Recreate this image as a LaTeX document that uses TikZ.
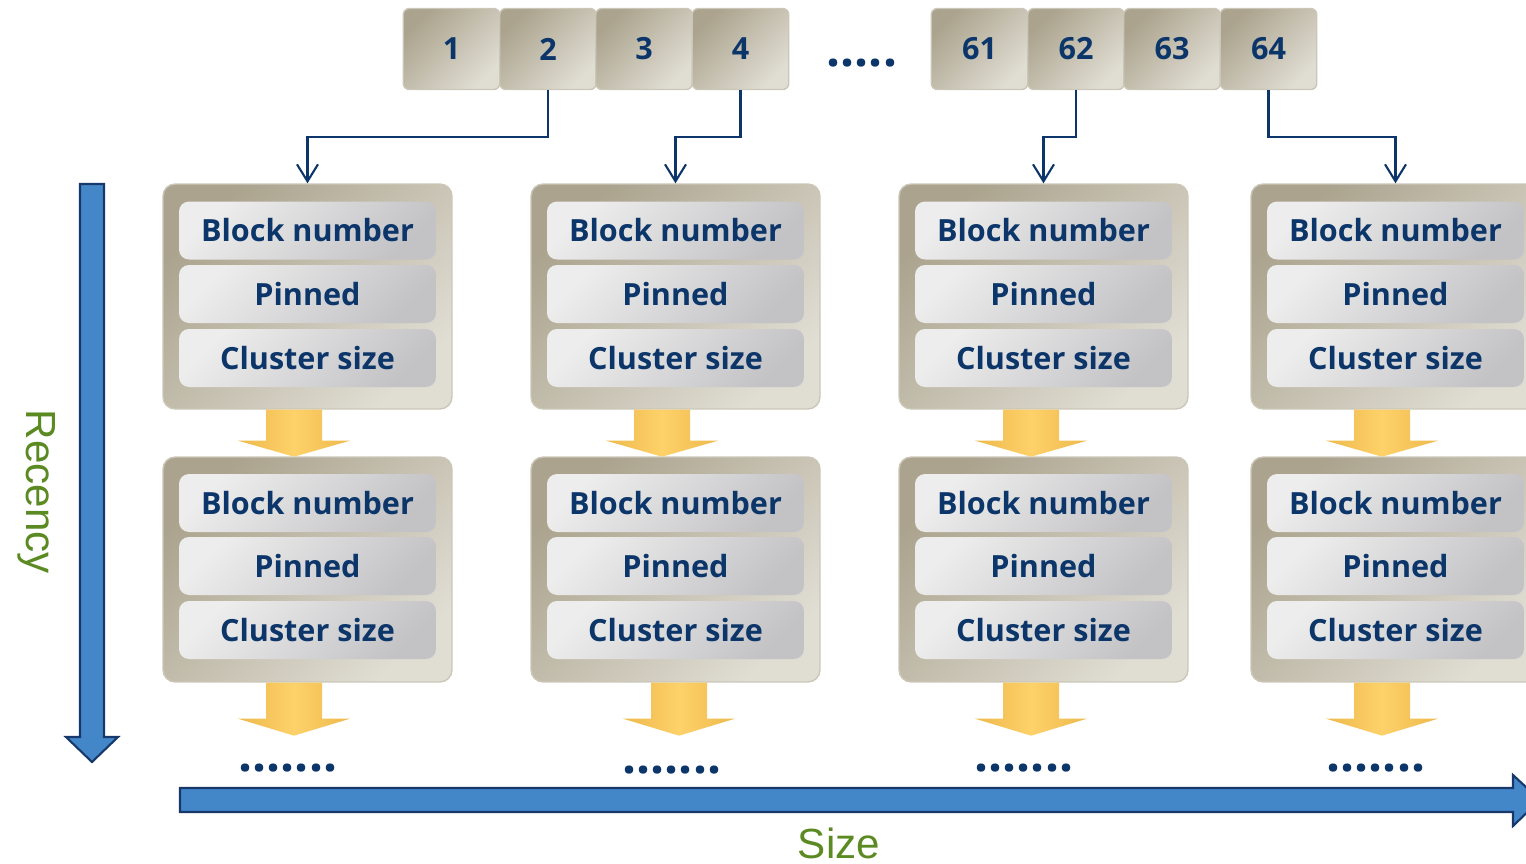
\documentclass[tikz,border=0pt]{standalone}
\usepackage{fontspec}
\setmainfont{Liberation Sans}
\newfontfamily\boxfont{Open Sans}
\usepackage{tikz}
\usetikzlibrary{arrows.meta}

\definecolor{frameDark}{HTML}{ABA38D}
\definecolor{frameLight}{HTML}{E0DDD3}
\definecolor{frameEdge}{HTML}{CBC7B8}
\definecolor{rowLight}{HTML}{EDEDED}
\definecolor{rowDark}{HTML}{C3C3C6}
\definecolor{navy}{HTML}{0C3669}
\definecolor{axisBlue}{HTML}{4487C9}
\definecolor{axisEdge}{HTML}{17386A}
\definecolor{labelGreen}{HTML}{5B8A22}
\definecolor{goldDark}{HTML}{EDB94C}
\definecolor{goldLight}{HTML}{FED16A}

\tikzset{
  frame/.style={draw=frameEdge, line width=0.8pt, rounded corners=0.24cm,
    top color=frameDark, bottom color=frameLight, shading angle=45,
    minimum width=5.78cm, minimum height=4.5cm},
  field/.style={rounded corners=0.2cm, top color=rowLight, bottom color=rowDark,
    shading angle=45, minimum width=5.14cm, minimum height=1.16cm,
    text=navy, font=\boxfont\bfseries\fontsize{17.4}{17.4}\selectfont},
  slot/.style={draw=frameEdge, line width=0.8pt, rounded corners=0.12cm,
    top color=frameDark, bottom color=frameLight, shading angle=45,
    minimum width=1.93cm, minimum height=1.62cm,
    text=navy, font=\boxfont\bfseries\fontsize{17.4}{17.4}\selectfont},
  link/.style={draw=navy, line width=1.2pt, -{Straight Barb[length=0.34cm,width=0.42cm]}},
  goldarrow/.style={left color=goldDark, right color=goldDark, middle color=goldLight},
  axisarrow/.style={draw=axisEdge, line width=1.2pt, fill=axisBlue},
  axislabel/.style={text=labelGreen, font=\fontsize{24}{24}\selectfont},
  more/.style={text=navy, font=\boxfont\bfseries\fontsize{28}{28}\selectfont}
}

\begin{document}
\begin{tikzpicture}[x=0.02cm, y=0.02cm]
\useasboundingbox (0,0) rectangle (1526,-863);
% hash slots
\node [slot] (n1) at (451.5,-49) {1};
\node [slot] (n2) at (548,-49) {2};
\node [slot] (n3) at (644,-49) {3};
\node [slot] (n4) at (740.5,-49) {4};
\node [more] (topdots) at (862,-63) {.....};
\node [slot] (n61) at (979.5,-49) {61};
\node [slot] (n62) at (1076,-49) {62};
\node [slot] (n63) at (1172,-49) {63};
\node [slot] (n64) at (1268.5,-49) {64};
% column 1
\node [frame] (f11) at (307.5,-296.5) {};
\node [field] at (307.5,-230.5) {Block number};
\node [field] at (307.5,-294) {Pinned};
\node [field] at (307.5,-358) {Cluster size};
\node [frame] (f12) at (307.5,-569.5) {};
\node [field] at (307.5,-503) {Block number};
\node [field] at (307.5,-566) {Pinned};
\node [field] at (307.5,-630) {Cluster size};
\node [more] (d1) at (288,-768) {.......};
% column 2
\node [frame] (f21) at (675.5,-296.5) {};
\node [field] at (675.5,-230.5) {Block number};
\node [field] at (675.5,-294) {Pinned};
\node [field] at (675.5,-358) {Cluster size};
\node [frame] (f22) at (675.5,-569.5) {};
\node [field] at (675.5,-503) {Block number};
\node [field] at (675.5,-566) {Pinned};
\node [field] at (675.5,-630) {Cluster size};
\node [more] (d2) at (672,-770) {.......};
% column 3
\node [frame] (f31) at (1043.5,-296.5) {};
\node [field] at (1043.5,-230.5) {Block number};
\node [field] at (1043.5,-294) {Pinned};
\node [field] at (1043.5,-358) {Cluster size};
\node [frame] (f32) at (1043.5,-569.5) {};
\node [field] at (1043.5,-503) {Block number};
\node [field] at (1043.5,-566) {Pinned};
\node [field] at (1043.5,-630) {Cluster size};
\node [more] (d3) at (1024,-768) {.......};
% column 4
\node [frame] (f41) at (1395.5,-296.5) {};
\node [field] at (1395.5,-230.5) {Block number};
\node [field] at (1395.5,-294) {Pinned};
\node [field] at (1395.5,-358) {Cluster size};
\node [frame] (f42) at (1395.5,-569.5) {};
\node [field] at (1395.5,-503) {Block number};
\node [field] at (1395.5,-566) {Pinned};
\node [field] at (1395.5,-630) {Cluster size};
\node [more] (d4) at (1376,-768) {.......};
% slot pointers
\draw [link] (n2.south) -- ++(0,-47) -| (f11.north);
\draw [link] (n4.south) -- ++(0,-47) -| (f21.north);
\draw [link] (n62.south) -- ++(0,-47) -| (f31.north);
\draw [link] (n64.south) -- ++(0,-47) -| (f41.north);
% list links
\path [goldarrow] ([xshift=-0.27cm]f11.south) ++(-28,0) -- ++(56,0) -- ++(0,-31) -- ++(28,0) -- ++(-56,-16) -- ++(-56,16) -- ++(28,0) -- cycle;
\path [goldarrow] ([xshift=-0.27cm]f12.south) ++(-28,0) -- ++(56,0) -- ++(0,-36) -- ++(28,0) -- ++(-56,-17) -- ++(-56,17) -- ++(28,0) -- cycle;
\path [goldarrow] ([xshift=-0.27cm]f21.south) ++(-28,0) -- ++(56,0) -- ++(0,-31) -- ++(28,0) -- ++(-56,-16) -- ++(-56,16) -- ++(28,0) -- cycle;
\path [goldarrow] ([xshift=0.07cm]f22.south) ++(-28,0) -- ++(56,0) -- ++(0,-36) -- ++(28,0) -- ++(-56,-17) -- ++(-56,17) -- ++(28,0) -- cycle;
\path [goldarrow] ([xshift=-0.25cm]f31.south) ++(-28,0) -- ++(56,0) -- ++(0,-31) -- ++(28,0) -- ++(-56,-16) -- ++(-56,16) -- ++(28,0) -- cycle;
\path [goldarrow] ([xshift=-0.25cm]f32.south) ++(-28,0) -- ++(56,0) -- ++(0,-36) -- ++(28,0) -- ++(-56,-17) -- ++(-56,17) -- ++(28,0) -- cycle;
\path [goldarrow] ([xshift=-0.27cm]f41.south) ++(-28,0) -- ++(56,0) -- ++(0,-31) -- ++(28,0) -- ++(-56,-16) -- ++(-56,16) -- ++(28,0) -- cycle;
\path [goldarrow] ([xshift=-0.27cm]f42.south) ++(-28,0) -- ++(56,0) -- ++(0,-36) -- ++(28,0) -- ++(-56,-17) -- ++(-56,17) -- ++(28,0) -- cycle;
% axes
\draw [axisarrow] (80,-184) -- (104,-184) -- (104,-737) -- (118,-737) -- (92,-762) -- (66,-737) -- (80,-737) -- cycle;
\draw [axisarrow] (180,-788) -- (1513,-788) -- (1513,-775) -- (1540,-800) -- (1513,-826) -- (1513,-812) -- (180,-812) -- cycle;
\node [axislabel, rotate=-90] (recency) at (37,-492) {Recency};
\node [axislabel] (size) at (839,-843) {Size};
\end{tikzpicture}
\end{document}
